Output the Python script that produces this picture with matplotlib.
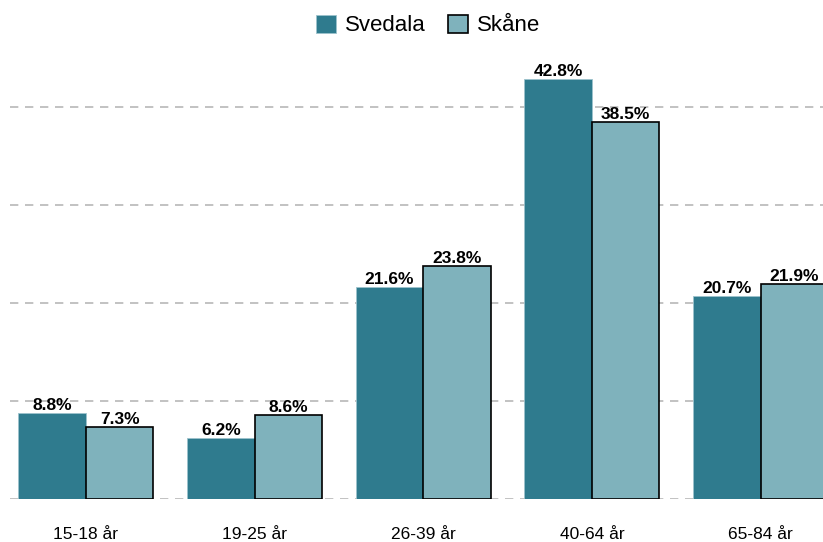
import matplotlib
matplotlib.use("Agg")
import matplotlib.pyplot as plt
import numpy as np

plt.rcParams['font.family'] = ['Liberation Sans', 'DejaVu Sans']

categories = ["15-18 år", "19-25 år", "26-39 år", "40-64 år", "65-84 år"]
svedala = [8.8, 6.2, 21.6, 42.8, 20.7]
skane = [7.3, 8.6, 23.8, 38.5, 21.9]

c_svedala = "#2F7B8E"
c_skane = "#7FB2BC"

fig = plt.figure(figsize=(8.23, 5.42), dpi=100)
ax = fig.add_axes([10 / 823, 43 / 542, 813 / 823, 449 / 542])

x = np.arange(len(categories))
w = 0.4
b1 = ax.bar(x - w / 2, svedala, w, color=c_svedala, edgecolor="#9cc3cc", linewidth=0.6,
            label="Svedala", zorder=3)
b2 = ax.bar(x + w / 2, skane, w, color=c_skane, edgecolor="black", linewidth=1.2,
            label="Skåne", zorder=3)

for bars, vals in ((b1, svedala), (b2, skane)):
    for bar, v in zip(bars, vals):
        ax.text(bar.get_x() + bar.get_width() / 2, v, f"{v:.1f}%",
                ha="center", va="bottom", fontsize=12.5, fontweight="bold", zorder=4)

ax.set_xlim(-0.45, 4.37)
ax.set_ylim(0, 45.8)
ax.set_yticks([0, 10, 20, 30, 40])
ax.yaxis.grid(True, linestyle=(0, (5, 4)), color="#b8b8b8", linewidth=1.2, zorder=0)
ax.tick_params(axis="y", left=False, labelleft=False)
ax.tick_params(axis="x", bottom=False, labelsize=12.5, pad=17)
ax.set_xticks(x)
ax.set_xticklabels(categories)
for s in ax.spines.values():
    s.set_visible(False)

leg = fig.legend(loc="upper center", bbox_to_anchor=(0.52, 1.01), ncol=2, frameon=False,
                 fontsize=16, handlelength=0.9, handleheight=0.9, columnspacing=1.0,
                 handletextpad=0.4)

fig.savefig("out.png", dpi=100)
